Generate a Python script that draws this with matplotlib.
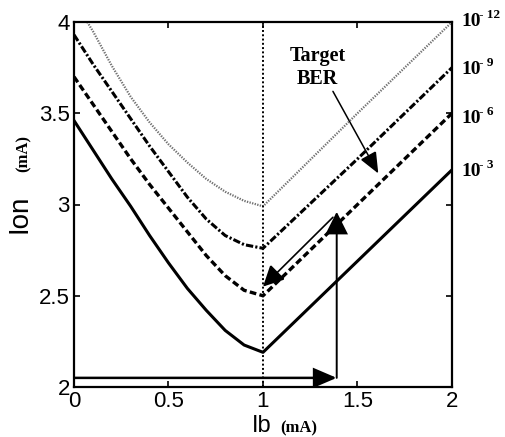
import matplotlib
matplotlib.use("Agg")
import matplotlib.pyplot as plt
from matplotlib.patches import FancyArrowPatch
from matplotlib.transforms import blended_transform_factory, offset_copy

# ---- data ----
x_main = [0.0, 0.1, 0.2, 0.3, 0.4, 0.5, 0.6, 0.7, 0.8, 0.9, 1.0, 1.5, 2.0]
ber_1e3 = [3.46, 3.30, 3.14, 2.99, 2.83, 2.68, 2.54, 2.42, 2.31, 2.23, 2.19, 2.69, 3.19]
ber_1e6 = [3.70, 3.55, 3.40, 3.25, 3.11, 2.98, 2.85, 2.72, 2.61, 2.53, 2.50, 3.00, 3.50]
ber_1e9 = [3.93, 3.77, 3.62, 3.47, 3.32, 3.18, 3.04, 2.92, 2.83, 2.78, 2.76, 3.25, 3.75]
x_dot = [0.07, 0.1, 0.2, 0.3, 0.4, 0.5, 0.6, 0.7, 0.8, 0.9, 1.0, 1.5, 2.0]
ber_1e12 = [4.00, 3.95, 3.76, 3.59, 3.45, 3.33, 3.23, 3.14, 3.07, 3.02, 2.99, 3.50, 4.00]

right_base = '10'
right_exponents = ['- 12', '- 9', '- 6', '- 3']
right_label_y = [4.00, 3.74, 3.47, 3.18]

x_ticks = [0, 0.5, 1, 1.5, 2]
x_tick_labels = ['0', '0.5', '1', '1.5', '2']
y_ticks = [2, 2.5, 3, 3.5, 4]
y_tick_labels = ['2', '2.5', '3', '3.5', '4']

# annotation arrows: (start, tip)
arrow_h = ((0.0, 2.05), (1.39, 2.05))
arrow_v = ((1.39, 2.05), (1.39, 2.96))
arrow_diag = ((1.37, 2.93), (1.0, 2.55))
arrow_target = ((1.37, 3.62), (1.61, 3.17))
target_text_pos = (1.29, 3.75)
bias_x = 1.0

# ---- figure ----
fig = plt.figure(figsize=(5.06, 4.37), dpi=100)
ax = fig.add_axes([74/506, 50/437, 378/506, 365/437])

ax.plot(x_main, ber_1e3, color='black', lw=2.2, solid_joinstyle='round')
ax.plot(x_main, ber_1e6, color='black', lw=2.4, dashes=(2.0, 1.0))
ax.plot(x_main, ber_1e9, color='black', lw=2.2, dashes=(2.4, 0.7, 0.7, 0.7))
ax.plot(x_dot, ber_1e12, color='#707070', lw=1.6, dashes=(0.6, 0.6))
ax.axvline(bias_x, color='black', lw=1.4, dashes=(1.0, 1.2))

def arrow(p, lw, hl, hw):
    a = FancyArrowPatch(p[0], p[1], arrowstyle=f'-|>,head_length={hl},head_width={hw}',
                        color='black', lw=lw, mutation_scale=1, shrinkA=0, shrinkB=0,
                        joinstyle='miter')
    ax.add_patch(a)

arrow(arrow_h, 1.8, 14, 6)
arrow(arrow_v, 1.4, 14, 7)
arrow(arrow_diag, 1.2, 13, 6.5)
arrow(arrow_target, 1.1, 13, 5.5)

ax.text(target_text_pos[0], target_text_pos[1], 'Target\nBER', ha='center', va='center',
        fontfamily='Liberation Serif', fontweight='bold', fontsize=14.5, linespacing=1.15)

trans = blended_transform_factory(ax.transAxes, ax.transData)
for ex, yv in zip(right_exponents, right_label_y):
    ax.text(1.024, yv, right_base, transform=trans, ha='left', va='center',
            fontfamily='Liberation Serif', fontweight='bold', fontsize=14)
    t2 = offset_copy(trans, fig=fig, x=13, y=5, units='points')
    ax.text(1.024, yv, ex, transform=t2, ha='left', va='center',
            fontfamily='Liberation Serif', fontweight='bold', fontsize=9.5)

ax.set_xlim(0, 2)
ax.set_ylim(2, 4)
ax.set_xticks(x_ticks)
ax.set_xticklabels(x_tick_labels, fontfamily='Liberation Sans', fontsize=16)
ax.set_yticks(y_ticks)
ax.set_yticklabels(y_tick_labels, fontfamily='Liberation Sans', fontsize=16)
ax.tick_params(direction='in', top=True, right=True, length=4, width=1.2, pad=3)
for s in ax.spines.values():
    s.set_linewidth(1.6)

# axis labels (mixed fonts)
ax.text((27-74)/378, (387-233)/365, 'Ion', transform=ax.transAxes, rotation=90,
        rotation_mode='anchor', ha='left', va='baseline',
        fontfamily='Liberation Sans', fontsize=20)
ax.text((28-74)/378, (387-172)/365, '(mA)', transform=ax.transAxes, rotation=90,
        rotation_mode='anchor', ha='left', va='baseline',
        fontfamily='Liberation Serif', fontweight='bold', fontsize=12)
ax.text((252-74)/378, (387-432)/365, 'Ib', transform=ax.transAxes,
        ha='left', va='baseline', fontfamily='Liberation Sans', fontsize=17)
ax.text((280-74)/378, (387-432)/365, '(mA)', transform=ax.transAxes,
        ha='left', va='baseline', fontfamily='Liberation Serif', fontweight='bold', fontsize=12)

fig.savefig('out.png', dpi=100)
